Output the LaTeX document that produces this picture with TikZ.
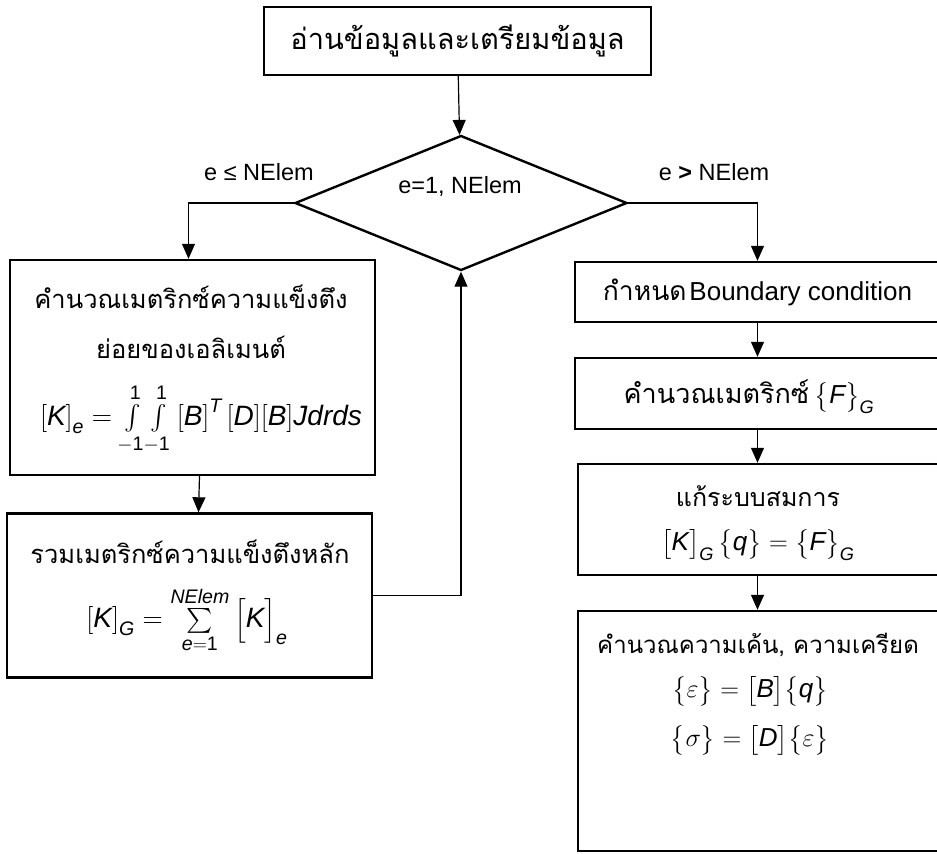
\documentclass[tikz,border=0pt]{standalone}
\usepackage{fix-cm}
\usepackage{amsmath}
\usepackage{fontspec}
\setmainfont{Liberation Sans}
\newfontfamily\thaifont[Script=Thai]{Loma}
\usetikzlibrary{arrows.meta,shapes.geometric}

\tikzset{
  box/.style={draw,line width=2.4pt,rectangle,align=center,inner sep=0pt},
  flow/.style={line width=1.2pt,-{Triangle[length=15pt,width=13pt]}},
  lbl/.style={font=\fontsize{23.5}{28}\selectfont},
  thai/.style={font=\fontsize{25.5}{50}\thaifont,align=center},
  eqn/.style={font=\fontsize{28}{32}\selectfont},
  eqnr/.style={font=\fontsize{26}{30}\selectfont},
}
\newcommand{\lb}{\mathrm{[}}
\newcommand{\rb}{\mathrm{]}}

\begin{document}
\begin{tikzpicture}[x=1pt,y=-1pt]
\useasboundingbox (0,0) rectangle (937,854);
\clip (0,0) rectangle (937,854);

% start and loop over elements
\node[box,minimum width=387,minimum height=68,font=\fontsize{29}{34}\thaifont] (read) at (457.5,41) {อ่านข้อมูลและเตรียมข้อมูล};
\node[draw,diamond,line width=2.4pt,minimum width=332,minimum height=135,inner sep=0pt] (loop) at (461,203) {};
\node[lbl] (looptxt) at (460,186) {e=1, NElem};
\node[lbl] (le) at (259,172) {e ≤ NElem};
\node[lbl] (gt) at (714,172) {e \textbf{>} NElem};

% left side: element and global stiffness
\node[box,minimum width=365,minimum height=215] (stiff) at (192.5,367.5) {};
\node[thai] (stifftxt) at (191,322) {คำนวณเมตริกซ์ความแข็งตึง\\ย่อยของเอลิเมนต์};
\node[eqn] (stiffeq) at (201,419)
  {\(\lb\mathit{K}\rb_{\mathit{e}} = \int\limits_{\mathrm{-1}}^{\mathrm{1}}\!\int\limits_{\mathrm{-1}}^{\mathrm{1}}\lb\mathit{B}\rb^{\mathit{T}}\,\lb\mathit{D}\rb\lb\mathit{B}\rb\mathit{Jdrds}\)};

\node[box,minimum width=365,minimum height=164] (assem) at (189.5,595.5) {};
\node[thai] (assemtxt) at (190,552) {รวมเมตริกซ์ความแข็งตึงหลัก};
\node[eqn] (assemeq) at (187,620)
  {\(\lb\mathit{K}\rb_{\mathit{G}} = \sum\limits_{\mathit{e}=\mathrm{1}}^{\mathit{NElem}}\big[\mathit{K}\big]_{\mathit{e}}\)};

% right side
\node[box,minimum width=365,minimum height=60] (bc) at (757.5,292) {{\fontsize{26.5}{30}\thaifont กำหนด} {\fontsize{26}{30}\selectfont Boundary condition}};
\node[box,minimum width=365,minimum height=71] (fmat) at (757.5,393.5) {};
\node (fmattxt) at (749,397) {{\fontsize{27}{30}\thaifont คำนวณเมตริกซ์}\; {\fontsize{26}{30}\selectfont\(\big\{\mathit{F}\big\}_{\mathit{G}}\)}};
\node[box,minimum width=362,minimum height=111] (solve) at (759,519.5) {};
\node[thai,font=\fontsize{25}{30}\thaifont] (solvetxt) at (758,496) {แก้ระบบสมการ};
\node[eqnr] (solveeq) at (758,545) {\(\big[\mathit{K}\big]_{\mathit{G}}\,\big\{\mathit{q}\big\}=\big\{\mathit{F}\big\}_{\mathit{G}}\)};
\node[box,minimum width=362,minimum height=240] (stress) at (759,731) {};
\node[thai,font=\fontsize{24}{30}\thaifont] (stresstxt) at (758,645) {คำนวณความเค้น, ความเครียด};
\node[eqnr] (straineq) at (750,691) {\(\big\{\varepsilon\big\}=\big[\mathit{B}\big]\big\{\mathit{q}\big\}\)};
\node[eqnr] (stresseq) at (750,740) {\(\big\{\sigma\big\}=\big[\mathit{D}\big]\big\{\varepsilon\big\}\)};

% connectors
\draw[flow] (read) -- (loop);
\draw[flow] (loop.west) -| ([xshift=-4pt]stiff.north);
\draw[flow] (loop.east) -| (bc.north);
\draw[flow] ([xshift=7pt]stiff.south) -- ([xshift=9pt]assem.north);
\draw[flow] (assem.east) -| (loop.south);
\draw[flow] (bc) -- (fmat);
\draw[flow] (fmat) -- (solve.north -| fmat.south);
\draw[flow] (solve.south -| fmat.south) -- (stress.north -| fmat.south);
\end{tikzpicture}
\end{document}
